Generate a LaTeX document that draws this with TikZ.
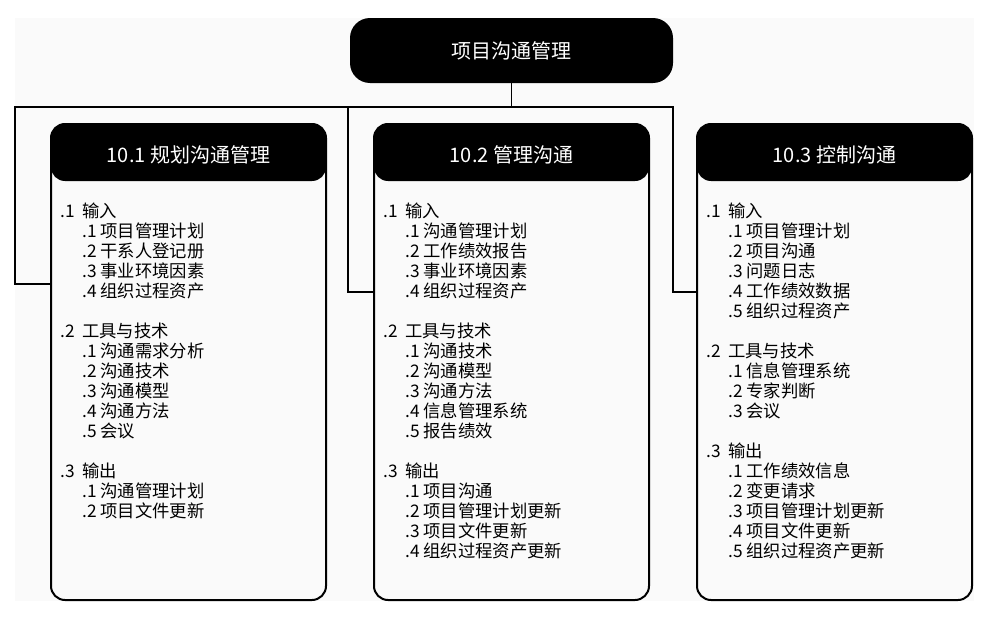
\documentclass[tikz,border=0pt]{standalone}
\usepackage{fontspec}
\newfontfamily\cjkfont{Noto Sans CJK SC}
\usepackage{xcolor}
\definecolor{paper}{HTML}{FAFAFA}
\definecolor{ink}{HTML}{000000}
\usepackage{tikz}
\usetikzlibrary{positioning, calc}
\newcommand{\grp}[2]{\makebox[16.5pt][l]{#1}#2}
\newcommand{\itm}[2]{\hspace*{16.5pt}#1 #2}

\begin{document}
\begin{tikzpicture}[x=0.75pt, y=-0.75pt]
  \path[fill=white] (0,0) rectangle (1004,628);
  \path[fill=paper] (15,18) rectangle (974,601);
  \useasboundingbox (0,0) rectangle (1004,628);

  \node[fill=ink, rounded corners=15pt,
        minimum width=242.25pt, minimum height=48.75pt,
        font=\cjkfont\fontsize{15pt}{18pt}\selectfont, text=white] (top)
        at (511.5,50.5) {项目沟通管理};

  \node[draw=ink, line width=1.5pt, rounded corners=10.5pt,
        minimum width=206.25pt, minimum height=357pt,
        path picture={\fill[ink] (path picture bounding box.north west)
          rectangle ([yshift=-42.75pt]path picture bounding box.north east);}] (plan)
        at (188.5,362) {};

  \node[draw=ink, line width=1.5pt, rounded corners=10.5pt,
        minimum width=206.25pt, minimum height=357pt,
        path picture={\fill[ink] (path picture bounding box.north west)
          rectangle ([yshift=-42.75pt]path picture bounding box.north east);},
        right=34.5pt of plan] (mgmt) {};

  \node[draw=ink, line width=1.5pt, rounded corners=10.5pt,
        minimum width=206.25pt, minimum height=357pt,
        path picture={\fill[ink] (path picture bounding box.north west)
          rectangle ([yshift=-42.75pt]path picture bounding box.north east);},
        right=34.5pt of mgmt] (ctrl) {};

  \node[font=\cjkfont\fontsize{15pt}{18pt}\selectfont, text=white] (planT)
        at ([yshift=-24pt]plan.north) {10.1 规划沟通管理};
  \node[font=\cjkfont\fontsize{15pt}{18pt}\selectfont, text=white] (mgmtT)
        at ([yshift=-24pt]mgmt.north) {10.2 管理沟通};
  \node[font=\cjkfont\fontsize{15pt}{18pt}\selectfont, text=white] (ctrlT)
        at ([yshift=-24pt]ctrl.north) {10.3 控制沟通};

  \node[font=\cjkfont\fontsize{13pt}{15pt}\selectfont, text=ink, align=left,
        inner sep=0pt, anchor=north west] (planL)
        at ([xshift=7.5pt, yshift=-60pt]plan.north west)
        {\grp{.1}{输入}\\
         \itm{.1}{项目管理计划}\\
         \itm{.2}{干系人登记册}\\
         \itm{.3}{事业环境因素}\\
         \itm{.4}{组织过程资产}\\[15pt]
         \grp{.2}{工具与技术}\\
         \itm{.1}{沟通需求分析}\\
         \itm{.2}{沟通技术}\\
         \itm{.3}{沟通模型}\\
         \itm{.4}{沟通方法}\\
         \itm{.5}{会议}\\[15pt]
         \grp{.3}{输出}\\
         \itm{.1}{沟通管理计划}\\
         \itm{.2}{项目文件更新}};

  \node[font=\cjkfont\fontsize{13pt}{15pt}\selectfont, text=ink, align=left,
        inner sep=0pt, anchor=north west] (mgmtL)
        at ([xshift=7.5pt, yshift=-60pt]mgmt.north west)
        {\grp{.1}{输入}\\
         \itm{.1}{沟通管理计划}\\
         \itm{.2}{工作绩效报告}\\
         \itm{.3}{事业环境因素}\\
         \itm{.4}{组织过程资产}\\[15pt]
         \grp{.2}{工具与技术}\\
         \itm{.1}{沟通技术}\\
         \itm{.2}{沟通模型}\\
         \itm{.3}{沟通方法}\\
         \itm{.4}{信息管理系统}\\
         \itm{.5}{报告绩效}\\[15pt]
         \grp{.3}{输出}\\
         \itm{.1}{项目沟通}\\
         \itm{.2}{项目管理计划更新}\\
         \itm{.3}{项目文件更新}\\
         \itm{.4}{组织过程资产更新}};

  \node[font=\cjkfont\fontsize{13pt}{15pt}\selectfont, text=ink, align=left,
        inner sep=0pt, anchor=north west] (ctrlL)
        at ([xshift=7.5pt, yshift=-60pt]ctrl.north west)
        {\grp{.1}{输入}\\
         \itm{.1}{项目管理计划}\\
         \itm{.2}{项目沟通}\\
         \itm{.3}{问题日志}\\
         \itm{.4}{工作绩效数据}\\
         \itm{.5}{组织过程资产}\\[15pt]
         \grp{.2}{工具与技术}\\
         \itm{.1}{信息管理系统}\\
         \itm{.2}{专家判断}\\
         \itm{.3}{会议}\\[15pt]
         \grp{.3}{输出}\\
         \itm{.1}{工作绩效信息}\\
         \itm{.2}{变更请求}\\
         \itm{.3}{项目管理计划更新}\\
         \itm{.4}{项目文件更新}\\
         \itm{.5}{组织过程资产更新}};

  \coordinate (busL) at (15,107);
  \coordinate (busR) at (673,107);

  \draw[ink, line width=1.2pt] (top.south) -- (top.south |- busL);
  \draw[ink, line width=1.2pt]
    ([yshift=-120.75pt]plan.north west) -| (busL) -- (busR)
    |- ([yshift=-126.75pt]ctrl.north west);
  \draw[ink, line width=1.2pt]
    ([yshift=-126.75pt]mgmt.north west) -- ++(-25,0) |- (busR);

\end{tikzpicture}
\end{document}
